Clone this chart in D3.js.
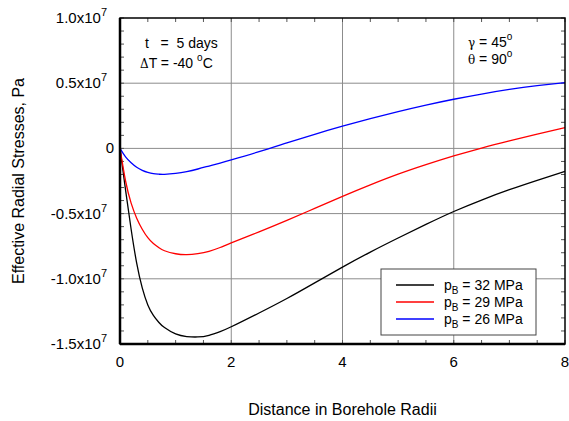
<!DOCTYPE html>
<html lang="en">
<head>
    <meta charset="UTF-8">
    <script src="https://cdn.jsdelivr.net/npm/d3@7"></script>
    <style>
        body { margin: 0; background: #fff; }
        text { font-family: "Liberation Sans", Arial, sans-serif; fill: #000; }
    </style>
    <title>Effective Radial Stresses</title>
</head>
<body>
    <div id="chart"></div>

    <script>
        // distance in borehole radii
        const distance = [0, 0.1, 0.2, 0.3, 0.4, 0.5, 0.6, 0.7, 0.8, 1.0, 1.2, 1.4, 1.6, 1.8, 2.0,
                          2.5, 3.0, 3.5, 4.0, 4.5, 5.0, 5.5, 6.0, 6.5, 7.0, 7.5, 8.0];

        // stresses in units of 1e7 Pa
        const stress32 = [0, -0.32, -0.62, -0.88, -1.07, -1.2, -1.28, -1.335, -1.374, -1.423, -1.443, -1.446, -1.433, -1.405, -1.368,
                          -1.262, -1.151, -1.031, -0.910, -0.795, -0.687, -0.583, -0.484, -0.396, -0.317, -0.245, -0.176];
        const stress29 = [0, -0.25, -0.42, -0.535, -0.62, -0.685, -0.73, -0.762, -0.785, -0.808, -0.815, -0.807, -0.789, -0.76, -0.725,
                          -0.64, -0.552, -0.46, -0.368, -0.28, -0.198, -0.125, -0.058, 0.003, 0.058, 0.11, 0.16];
        const stress26 = [0, -0.065, -0.11, -0.145, -0.168, -0.184, -0.194, -0.198, -0.199, -0.192, -0.178, -0.158, -0.135, -0.112, -0.088,
                          -0.025, 0.042, 0.108, 0.17, 0.228, 0.282, 0.332, 0.377, 0.417, 0.452, 0.481, 0.505];

        const seriesNames = ["32", "29", "26"];
        const seriesColors = ["#000000", "#ff0000", "#0000ff"];

        const xTicks = [0, 2, 4, 6, 8];
        const yTicks = [1.0, 0.5, 0, -0.5, -1.0, -1.5];
        const yTickLabels = ["1.0x10", "0.5x10", "0", "-0.5x10", "-1.0x10", "-1.5x10"];

        /*------------------- Window setting --------------------*/
        const width = 569, height = 421;
        const margin = { left: 120, right: 4, top: 18, bottom: 77 };

        const svg = d3.select("#chart").append("svg")
            .attr("width", width)
            .attr("height", height);

        const x = d3.scaleLinear().domain([0, 8]).range([margin.left, width - margin.right]);
        const y = d3.scaleLinear().domain([-1.5, 1.0]).range([height - margin.bottom, margin.top]);

        // grid lines
        svg.append("g").selectAll("line")
            .data(xTicks.slice(1, -1))
            .enter().append("line")
            .attr("x1", d => x(d)).attr("x2", d => x(d))
            .attr("y1", y(1.0)).attr("y2", y(-1.5))
            .attr("stroke", "#8c8c8c").attr("stroke-width", 1);
        svg.append("g").selectAll("line")
            .data(yTicks.slice(1, -1))
            .enter().append("line")
            .attr("x1", x(0)).attr("x2", x(8))
            .attr("y1", d => y(d)).attr("y2", d => y(d))
            .attr("stroke", "#8c8c8c").attr("stroke-width", 1);

        // minor ticks inside the frame
        const xMinor = d3.range(0, 8.001, 0.5);
        const yMinor = d3.range(-1.5, 1.001, 0.1);
        const tickLen = 4;
        const minor = svg.append("g").attr("stroke", "#555").attr("stroke-width", 1);
        xMinor.forEach(d => {
            minor.append("line").attr("x1", x(d)).attr("x2", x(d)).attr("y1", y(-1.5)).attr("y2", y(-1.5) - tickLen);
            minor.append("line").attr("x1", x(d)).attr("x2", x(d)).attr("y1", y(1.0)).attr("y2", y(1.0) + tickLen);
        });
        yMinor.forEach(d => {
            minor.append("line").attr("x1", x(0)).attr("x2", x(0) + tickLen).attr("y1", y(d)).attr("y2", y(d));
            minor.append("line").attr("x1", x(8)).attr("x2", x(8) - tickLen).attr("y1", y(d)).attr("y2", y(d));
        });

        // curves
        const line = d3.line()
            .x(d => x(d[0]))
            .y(d => y(d[1]))
            .curve(d3.curveNatural);

        [stress32, stress29, stress26].forEach((s, i) => {
            svg.append("path")
                .datum(distance.map((d, j) => [d, s[j]]))
                .attr("d", line)
                .attr("fill", "none")
                .attr("stroke", seriesColors[i])
                .attr("stroke-width", 1.3);
        });

        // frame
        svg.append("rect")
            .attr("x", x(0)).attr("y", y(1.0))
            .attr("width", x(8) - x(0)).attr("height", y(-1.5) - y(1.0))
            .attr("fill", "none").attr("stroke", "#000").attr("stroke-width", 1.5);
        svg.append("line")
            .attr("x1", x(0)).attr("x2", x(0)).attr("y1", y(1.0)).attr("y2", y(-1.5))
            .attr("stroke", "#000").attr("stroke-width", 2.5);
        svg.append("line")
            .attr("x1", x(0)).attr("x2", x(8)).attr("y1", y(-1.5)).attr("y2", y(-1.5))
            .attr("stroke", "#000").attr("stroke-width", 2.5);

        // x tick labels
        svg.append("g").selectAll("text")
            .data(xTicks)
            .enter().append("text")
            .attr("x", d => x(d))
            .attr("y", y(-1.5) + 23)
            .attr("text-anchor", "middle")
            .style("font-size", "15px")
            .text(d => d);

        // y tick labels with exponent
        const yLab = svg.append("g").selectAll("text")
            .data(yTicks)
            .enter().append("text")
            .attr("x", d => d === 0 ? x(0) - 6 : x(0) - 13)
            .attr("y", d => y(d) + 5)
            .attr("text-anchor", "end")
            .style("font-size", "15px");
        yLab.append("tspan").text((d, i) => yTickLabels[i]);
        yLab.filter(d => d !== 0).append("tspan")
            .attr("dy", -7).style("font-size", "11px").text("7");

        // axis titles
        svg.append("text")
            .attr("x", (x(0) + x(8)) / 2)
            .attr("y", 415)
            .attr("text-anchor", "middle")
            .style("font-size", "16px")
            .text("Distance in Borehole Radii");
        svg.append("text")
            .attr("transform", `translate(24, ${(y(1.0) + y(-1.5)) / 2}) rotate(-90)`)
            .attr("text-anchor", "middle")
            .style("font-size", "16px")
            .text("Effective Radial Stresses, Pa");

        // annotations
        const t1 = svg.append("text").attr("x", 145).attr("y", 48).style("font-size", "14px");
        t1.text("t   =  5 days").attr("xml:space", "preserve");
        const t2 = svg.append("text").attr("x", 140).attr("y", 68).style("font-size", "14px");
        t2.append("tspan").style("font-family", "'DejaVu Serif', serif").style("font-size", "12px").text("Δ");
        t2.append("tspan").text("T = -40 ");
        t2.append("tspan").attr("dy", -7).style("font-size", "10px").text("o");
        t2.append("tspan").attr("dy", 7).text("C");

        const g1 = svg.append("text").attr("x", 468).attr("y", 47).style("font-size", "14px");
        g1.append("tspan").style("font-family", "'DejaVu Serif', serif").style("font-size", "12px").text("γ");
        g1.append("tspan").text(" = 45");
        g1.append("tspan").attr("dy", -7).style("font-size", "10px").text("o");
        const g2 = svg.append("text").attr("x", 468).attr("y", 64).style("font-size", "14px");
        g2.append("tspan").style("font-family", "'DejaVu Serif', serif").style("font-size", "12px").text("θ");
        g2.append("tspan").text(" = 90");
        g2.append("tspan").attr("dy", -7).style("font-size", "10px").text("o");

        // legend
        const legend = svg.append("g");
        legend.append("rect")
            .attr("x", 381).attr("y", 269).attr("width", 155).attr("height", 66)
            .attr("fill", "#fff").attr("stroke", "#444").attr("stroke-width", 1);
        seriesNames.forEach((n, i) => {
            const ly = 285 + i * 17;
            legend.append("line")
                .attr("x1", 396).attr("x2", 434).attr("y1", ly).attr("y2", ly)
                .attr("stroke", seriesColors[i]).attr("stroke-width", 1.3);
            const lt = legend.append("text").attr("x", 444).attr("y", ly + 5).style("font-size", "14px");
            lt.append("tspan").text("p");
            lt.append("tspan").attr("dy", 4).style("font-size", "10px").text("B");
            lt.append("tspan").attr("dy", -4).text(` = ${n} MPa`);
        });
    </script>

</body>
</html>
